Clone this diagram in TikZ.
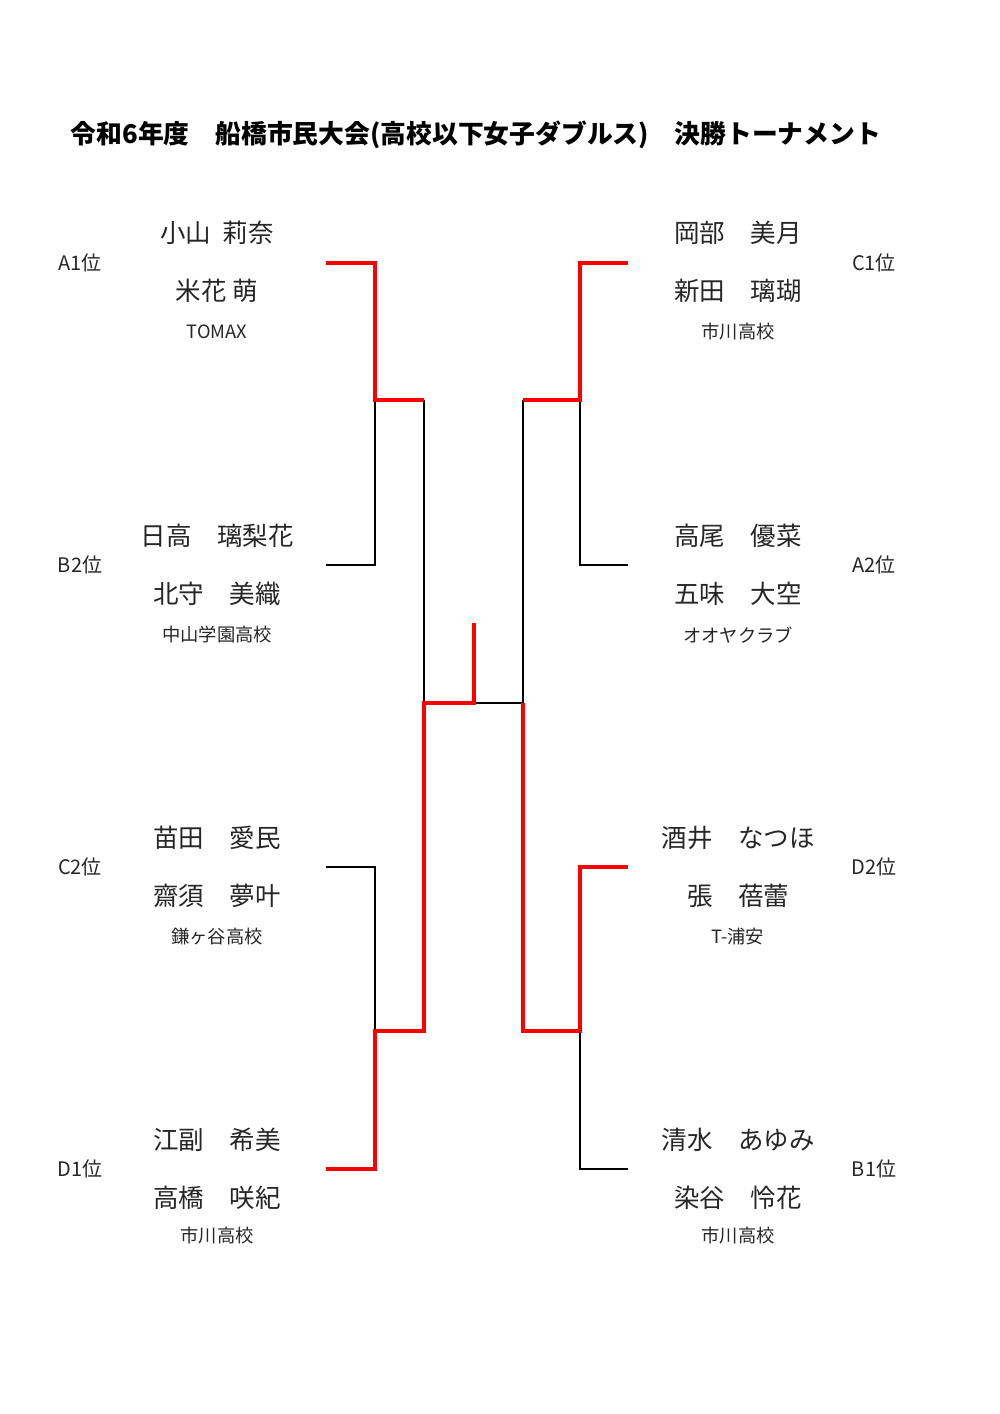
\documentclass[tikz,border=0pt]{standalone}
\usepackage{fontspec}
\setmainfont{Noto Sans CJK JP}
\begin{document}
\begin{tikzpicture}[x=1pt,y=-1pt,
  nm/.style={inner sep=0pt,font=\fontsize{25.5}{30}\selectfont,text=black!85},
  sch/.style={inner sep=0pt,font=\fontsize{18.3}{22}\selectfont,text=black!85},
  rk/.style={inner sep=0pt,font=\fontsize{20}{24}\selectfont,text=black!85},
  ttl/.style={inner sep=0pt,font=\fontsize{25.8}{30}\selectfont\bfseries},
  lose/.style={draw=black,line width=1.6pt},
  win/.style={draw=red,line width=4.5pt,line join=miter}]
\useasboundingbox (0,0) rectangle (1000,1414);
\node[ttl] (title) at (476,135) {令和6年度　船橋市民大会(高校以下女子ダブルス)　決勝トーナメント};
% left side
\node[rk] (rA1) at (80,263) {A1位};
\node[nm] (a1a) at (217,233) {小山\ \ 莉奈};
\node[nm] (a1b) at (217,291) {米花 萌};
\node[sch] (a1s) at (217,332) {TOMAX};
\node[rk] (rB2) at (80,565) {B2位};
\node[nm] (b2a) at (217,536) {日高　璃梨花};
\node[nm] (b2b) at (217,594) {北守　美織};
\node[sch] (b2s) at (217,635) {中山学園高校};
\node[rk] (rC2) at (80,867) {C2位};
\node[nm] (c2a) at (217,838) {苗田　愛民};
\node[nm] (c2b) at (217,896) {齋須　夢叶};
\node[sch] (c2s) at (217,937) {鎌ヶ谷高校};
\node[rk] (rD1) at (80,1169) {D1位};
\node[nm] (d1a) at (217,1140) {江副　希美};
\node[nm] (d1b) at (217,1198) {高橋　咲紀};
\node[sch] (d1s) at (217,1236) {市川高校};
% right side
\node[rk] (rC1) at (874,263) {C1位};
\node[nm] (c1a) at (738,233) {岡部　美月};
\node[nm] (c1b) at (738,291) {新田　璃瑚};
\node[sch] (c1s) at (738,332) {市川高校};
\node[rk] (rA2) at (874,565) {A2位};
\node[nm] (a2a) at (738,536) {高尾　優菜};
\node[nm] (a2b) at (738,594) {五味　大空};
\node[sch] (a2s) at (738,635) {オオヤクラブ};
\node[rk] (rD2) at (874,867) {D2位};
\node[nm] (d2a) at (738,838) {酒井　なつほ};
\node[nm] (d2b) at (738,896) {張　蓓蕾};
\node[sch] (d2s) at (738,937) {T-浦安};
\node[rk] (rB1) at (874,1169) {B1位};
\node[nm] (b1a) at (738,1140) {清水　あゆみ};
\node[nm] (b1b) at (738,1198) {染谷　怜花};
\node[sch] (b1s) at (738,1236) {市川高校};
% bracket coordinates
\coordinate (eA1) at (326,263);
\coordinate (eB2) at (326,565);
\coordinate (eC2) at (326,867);
\coordinate (eD1) at (326,1169);
\coordinate (eC1) at (628,263);
\coordinate (eA2) at (628,565);
\coordinate (eD2) at (628,867);
\coordinate (eB1) at (628,1169);
\coordinate (sL1) at (424,400);
\coordinate (sL2) at (424,1031);
\coordinate (sR1) at (523,400);
\coordinate (sR2) at (523,1031);
\coordinate (fL) at (424,703);
\coordinate (fR) at (523,703);
\coordinate (fC) at (474,703);
\coordinate (champ) at (474,623);
% losing lines
\draw[lose] (eB2) -| (375,400);
\draw[lose] (eC2) -| (375,1031);
\draw[lose] (eA2) -| (580,400);
\draw[lose] (eB1) -| (580,1031);
\draw[lose] (sL1) -- (fL);
\draw[lose] (sR1) -- (fR);
\draw[lose] (fC) -- (fR);
% winning lines
\draw[win] (eA1) -- (375,263) -- (375,400) -- (sL1);
\draw[win] (eC1) -- (580,263) -- (580,400) -- (sR1);
\draw[win] (eD1) -- (375,1169) -- (375,1031) -- (sL2) -- (fL) -- (fC) -- (champ);
\draw[win] (eD2) -- (580,867) -- (580,1031) -- (sR2) -- (fR);
\end{tikzpicture}
\end{document}
